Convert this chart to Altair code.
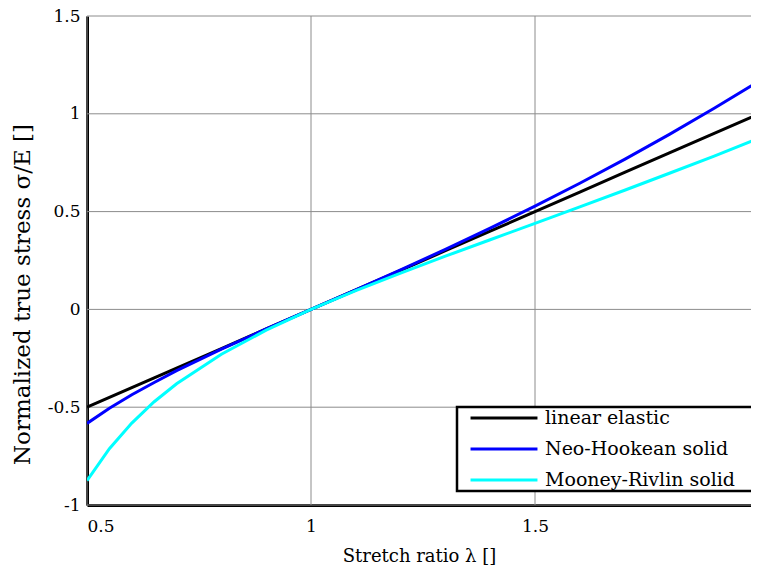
import altair as alt
import pandas as pd

lam = [0.5, 0.55, 0.6, 0.65, 0.7, 0.8, 0.9, 1.0, 1.1, 1.2, 1.3, 1.4, 1.5, 1.6, 1.7, 1.8, 1.9, 2.0]
linear = [-0.5, -0.45, -0.4, -0.35, -0.3, -0.2, -0.1, 0.0, 0.1, 0.2, 0.3, 0.4, 0.5, 0.6, 0.7, 0.8, 0.9, 1.0]
neo = [-0.583, -0.505, -0.436, -0.374, -0.313, -0.203, -0.100, 0.0, 0.100, 0.202, 0.307, 0.415, 0.528, 0.645, 0.767, 0.895, 1.028, 1.167]
mooney = [-0.875, -0.712, -0.581, -0.472, -0.380, -0.229, -0.106, 0.0, 0.096, 0.185, 0.272, 0.356, 0.440, 0.524, 0.609, 0.696, 0.784, 0.875]

names = ["linear elastic", "Neo-Hookean solid", "Mooney-Rivlin solid"]
colors = ["#000000", "#0000ff", "#00ffff"]

x_ticks = [0.5, 1, 1.5, 2]
y_ticks = [-1, -0.5, 0, 0.5, 1, 1.5]

# visible part of the x range (the figure is cropped at its right edge)
x_dom = [0.5, 1.98214]
x_vis = [v for v in x_ticks if v <= x_dom[1]]

rows = []
for name, ys in zip(names, [linear, neo, mooney]):
    for i, (x, y) in enumerate(zip(lam, ys)):
        rows.append({"lam": x, "s": y, "model": name, "i": i})
df = pd.DataFrame(rows)
vgrid_df = pd.DataFrame({"gx": x_vis})
hgrid_df = pd.DataFrame({"gy": y_ticks})

FONT = "DejaVu Serif"
GRID = "#8c8c8c"

xs = alt.Scale(domain=x_dom, nice=False, zero=False)
ys_ = alt.Scale(domain=[-1, 1.5], nice=False, zero=False)

x_axis = alt.Axis(values=x_vis, title="Stretch ratio λ []", grid=False,
                  labelExpr="'' + datum.value", titlePadding=13, labelPadding=13,
                  titleFontSize=18)
y_axis = alt.Axis(values=y_ticks, title="Normalized true stress σ/E []", grid=False,
                  labelExpr="'' + datum.value", titlePadding=13, labelPadding=7,
                  titleFontSize=23, titleY=278)

vgrid = alt.Chart(vgrid_df).mark_rule(color=GRID, strokeWidth=1).encode(
    x=alt.X("gx:Q", scale=xs, axis=x_axis),
)
hgrid = alt.Chart(hgrid_df).mark_rule(color=GRID, strokeWidth=1).encode(
    y=alt.Y("gy:Q", scale=ys_, axis=y_axis),
)

lines = alt.Chart(df).mark_line(strokeWidth=3, clip=True).encode(
    x=alt.X("lam:Q", scale=xs, axis=x_axis),
    y=alt.Y("s:Q", scale=ys_, axis=y_axis),
    color=alt.Color("model:N", scale=alt.Scale(domain=names, range=colors),
                    sort=names,
                    legend=alt.Legend(title="\u2003", titleOrient="right", titleFontSize=12,
                                      titlePadding=22,
                                      orient="none", legendX=370, legendY=391,
                                      symbolType="M-4,0H4", symbolSize=280, symbolStrokeWidth=3,
                                      symbolOffset=36, symbolFillColor="transparent",
                                      labelFontSize=19, labelFont=FONT, labelColor="#000000",
                                      labelLimit=400, rowPadding=11, padding=1, labelOffset=31,
                                      strokeColor="#000000", fillColor="#ffffff")),
    order="i:Q",
)

chart = alt.layer(vgrid, hgrid, lines).properties(
    width=664, height=489,
    autosize=alt.AutoSizeParams(type="none"),
    padding={"left": 79, "top": 8, "right": 0, "bottom": 60},
).configure_axis(
    domainColor="#000000", domainWidth=3,
    ticks=False,
    labelFont=FONT, labelFontSize=17, labelColor="#000000",
    titleFont=FONT, titleFontWeight="normal", titleColor="#000000",
).configure_legend(
    strokeWidth=2.5,
).configure_view(stroke="transparent", strokeWidth=0)

chart.save("out.html", embed_options={"renderer": "svg", "actions": False})
